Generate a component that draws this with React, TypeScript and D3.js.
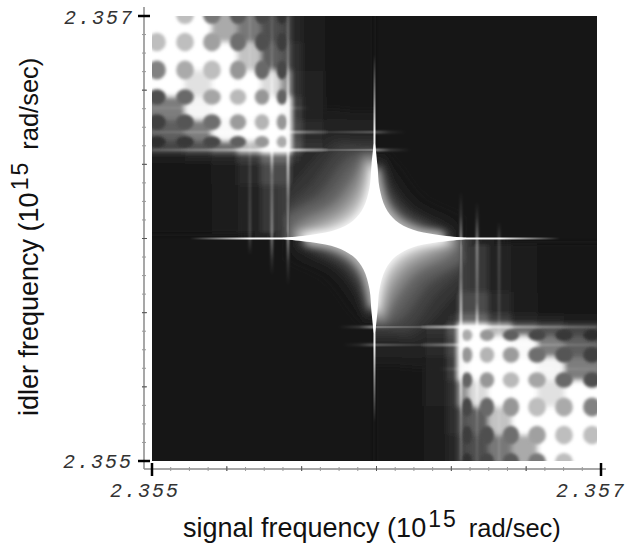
import * as d3 from "d3";

const width = 626;
const height = 543;

// all positions are offsets above 2.355e15 rad/sec, in units of 1e9 rad/sec
const tickLabels = ["2.355", "2.357"];
const majorTicks = [0, 2000];
const centre = { x: 991, y: 1000 };

// ridge lines of the corner fringe pattern
const ridgeX = [85, 205, 325, 436, 534, 606, 632, 704, 837];
const ridgeY = [1946, 1820, 1690, 1586, 1478, 1398, 1371, 1308, 1173];
const ridgeLevels = [
  [255, 255, 170, 120, 80, 70, 40, 28, 22],
  [255, 255, 255, 195, 95, 85, 45, 28, 22],
  [255, 225, 255, 255, 220, 150, 50, 32, 22],
  [125, 245, 255, 255, 255, 250, 62, 36, 23],
  [95, 125, 250, 255, 255, 255, 72, 42, 24],
  [70, 85, 110, 190, 255, 255, 85, 50, 25],
  [28, 32, 40, 62, 105, 105, 50, 32, 24],
  [24, 25, 30, 42, 75, 75, 40, 30, 23],
  [22, 23, 26, 34, 55, 60, 36, 28, 22],
];

// dark spots between the ridges
const holeX = [22, 147, 267, 383, 490, 579];
const holeY = [2004, 1883, 1757, 1636, 1523, 1434];
const holeLevels = [
  [255, 190, 120, 90, 70, 50],
  [190, 190, 160, 110, 80, 60],
  [130, 170, 190, 150, 105, 70],
  [80, 105, 165, 185, 150, 100],
  [65, 85, 110, 155, 180, 150],
  [45, 55, 70, 95, 150, 170],
];

// thin bright lines: position, then [along, opacity] stops
const vertLines = [
  { x: 606, w: 2, stops: [[2000, 0.2], [1802, 0.3], [1690, 0.7], [1398, 1], [1173, 0.4], [1002, 0.65], [894, 0.18], [791, 0]] },
  { x: 534, w: 2.4, stops: [[2000, 0.1], [1802, 0.15], [1690, 0.5], [1398, 0.9], [1285, 0.25], [1002, 0.45], [903, 0.12], [836, 0]] },
  { x: 436, w: 2.5, stops: [[1398, 0.12], [1002, 0.2], [926, 0]] },
];
const horizLines = [
  { y: 1398, w: 2, stops: [[0, 0.18], [325, 0.45], [481, 0.8], [606, 1], [793, 0.5], [989, 0.75], [1060, 0.2], [1150, 0]] },
  { y: 1478, w: 2.4, stops: [[0, 0.1], [325, 0.25], [606, 0.6], [793, 0.22], [989, 0.4], [1060, 0.1], [1130, 0]] },
  { y: 1586, w: 3, stops: [[0, 0.06], [606, 0.18], [704, 0]] },
];
const armV = [[1825, 0], [1622, 0.5], [1488, 0.9], [1308, 1], [692, 1], [512, 0.9], [378, 0.5], [175, 0]];
const armH = [[169, 0], [281, 0.4], [436, 0.95], [659, 1], [1327, 1], [1550, 0.95], [1706, 0.4], [1817, 0]];

// outline of the central star, one quadrant
const starDx = [0, 13, 22, 49, 94, 169, 272, 392, 470];
const starDy = [430, 333, 229, 139, 81, 40, 18, 4, 0];

// glow contours around the star: size relative to the star, grey level, reach of the arms
const lobeK = [5, 4.5, 4, 3.5, 3, 2.6, 2.3, 2, 1.8, 1.6, 1.45, 1.3, 1.2, 1.1, 1.03];
const lobeGrey = [26, 32, 42, 52, 66, 85, 100, 122, 140, 160, 178, 195, 212, 232, 248];
const lobeArm = [580, 535, 470, 436, 410, 392, 383, 374, 356, 347, 338, 330, 320, 311, 303];
const glowK = [2.4, 2.1, 1.8, 1.6, 1.4, 1.25, 1.1];
const glowGrey = [25, 30, 40, 55, 80, 120, 180];
const glowArm = [400, 378, 356, 334, 320, 311, 302];

const x = d3.scaleLinear().domain([0, 2000]).range([152, 601]);
const y = d3.scaleLinear().domain([0, 2000]).range([461, 16]);
const grey = (v: number) => d3.rgb(v, v, v).formatHex();

// cell edges half way between neighbouring ridges
const edges = (vals: number[], pad: number) => {
  const mids = d3.pairs(vals).map(([a, b]) => (a + b) / 2);
  const dir = vals[1] > vals[0] ? 1 : -1;
  return [vals[0] - dir * pad, ...mids, vals[vals.length - 1] + dir * pad];
};
const xEdges = edges(ridgeX, 150);
const yEdges = edges(ridgeY, 150);

const starPath = (k: number, arm: number) => {
  const outline = starDx.map((d, i) => [Math.min(k * d, arm), Math.min(k * starDy[i], arm)]);
  const quad = (sx: number, sy: number, rev: boolean) => {
    const pts = outline.map((p) => [centre.x + sx * p[0], centre.y + sy * p[1]] as [number, number]);
    return rev ? pts.reverse() : pts;
  };
  const pts = [
    ...quad(1, 1, false),
    ...quad(1, -1, true).slice(1),
    ...quad(-1, -1, false).slice(1),
    ...quad(-1, 1, true).slice(1, -1),
  ];
  return d3.line().x((d) => x(d[0])).y((d) => y(d[1])).curve(d3.curveCatmullRomClosed)(pts) as string;
};

const Corner = () => (
  <g>
    <g filter="url(#blurFabric)">
      {ridgeLevels.map((row, r) =>
        row.map((v, c) => (
          <rect
            key={`${r}-${c}`}
            x={x(xEdges[c])}
            y={y(yEdges[r])}
            width={x(xEdges[c + 1]) - x(xEdges[c]) + 0.5}
            height={y(yEdges[r + 1]) - y(yEdges[r]) + 0.5}
            fill={grey(v)}
          />
        ))
      )}
    </g>
    <g filter="url(#blurHole)">
      {holeLevels.map((row, r) =>
        row.map((v, c) =>
          v < 255 ? (
            <ellipse
              key={`${r}-${c}`}
              cx={x(holeX[c])}
              cy={y(holeY[r])}
              rx={Math.abs(x(ridgeX[c]) - x(ridgeX[Math.max(c - 1, 0)]) || 27) * 0.33}
              ry={Math.abs(y(ridgeY[r]) - y(ridgeY[Math.max(r - 1, 0)]) || 27) * 0.33}
              fill={grey(v)}
            />
          ) : null
        )
      )}
    </g>
    <g filter="url(#blurLine)">
      {vertLines.map((l) => (
        <line key={l.x} x1={x(l.x)} x2={x(l.x) + 0.01} y1={y(2000)} y2={y(0)} stroke={`url(#v${l.x})`} strokeWidth={l.w} />
      ))}
      {horizLines.map((l) => (
        <line key={l.y} x1={x(0)} x2={x(2000)} y1={y(l.y)} y2={y(l.y) + 0.01} stroke={`url(#h${l.y})`} strokeWidth={l.w} />
      ))}
    </g>
  </g>
);

const App = () => {
  const cx = x(centre.x);
  const cy = y(centre.y);
  const clipRect = { x: x(0), y: y(2000), width: 445, height: 445 };
  const minor = d3.range(0, 2001, 2000 / 24);
  const medium = d3.range(0, 2001, 2000 / 6);

  const vGrad = (id: string, stops: number[][]) => (
    <linearGradient key={id} id={id} gradientUnits="userSpaceOnUse" x1={0} x2={0} y1={y(2000)} y2={y(0)}>
      {stops.map(([p, o]) => (
        <stop key={p} offset={(y(p) - y(2000)) / (y(0) - y(2000))} stopColor="#fff" stopOpacity={o} />
      ))}
    </linearGradient>
  );
  const hGrad = (id: string, stops: number[][]) => (
    <linearGradient key={id} id={id} gradientUnits="userSpaceOnUse" x1={x(0)} x2={x(2000)} y1={0} y2={0}>
      {stops.map(([p, o]) => (
        <stop key={p} offset={p / 2000} stopColor="#fff" stopOpacity={o} />
      ))}
    </linearGradient>
  );

  const title = (name: string) => (
    <>
      {name} frequency (10
      <tspan dx={2} dy={-10} fontSize={23} letterSpacing={2}>15</tspan>
      <tspan dx={11} dy={10} fontSize={25.5}>rad/sec)</tspan>
    </>
  );

  return (
    <svg width={width} height={height} style={{ position: "absolute", left: 0, top: 0, background: "#fff" }}>
      <defs>
        <clipPath id="plot"><rect {...clipRect} /></clipPath>
        <clipPath id="qUL"><rect x={x(0)} y={y(2000)} width={cx - x(0)} height={cy - y(2000)} /></clipPath>
        <clipPath id="qLR"><rect x={cx} y={cy} width={x(2000) - cx} height={y(0) - cy} /></clipPath>
        <clipPath id="qUR"><rect x={cx} y={y(2000)} width={x(2000) - cx} height={cy - y(2000)} /></clipPath>
        <clipPath id="qLL"><rect x={x(0)} y={cy} width={cx - x(0)} height={y(0) - cy} /></clipPath>
        <filter id="blurFabric" x="-20%" y="-20%" width="140%" height="140%"><feGaussianBlur stdDeviation="2.5" /></filter>
        <filter id="blurHole" x="-10%" y="-10%" width="120%" height="120%"><feGaussianBlur stdDeviation="1.8" /></filter>
        <filter id="blurLine" filterUnits="userSpaceOnUse" x="100" y="0" width="526" height="500"><feGaussianBlur stdDeviation="0.9" /></filter>
        <filter id="blurStar" filterUnits="userSpaceOnUse" x="100" y="0" width="526" height="500"><feGaussianBlur stdDeviation="0.7" /></filter>
        <filter id="blurLobe" filterUnits="userSpaceOnUse" x="100" y="0" width="526" height="500"><feGaussianBlur stdDeviation="3" /></filter>
        {vertLines.map((l) => vGrad(`v${l.x}`, l.stops))}
        {horizLines.map((l) => hGrad(`h${l.y}`, l.stops))}
        {vGrad("armV", armV)}
        {hGrad("armH", armH)}
      </defs>

      <g clipPath="url(#plot)">
        <rect {...clipRect} fill="#161616" />
        <Corner />
        <g transform={`rotate(180 ${cx} ${cy})`}>
          <Corner />
        </g>
        {["qUL", "qLR"].map((q) => (
          <g key={q} clipPath={`url(#${q})`} style={{ mixBlendMode: "lighten" }}>
            <g filter="url(#blurLobe)">
              {lobeK.map((k, i) => <path key={k} d={starPath(k, lobeArm[i])} fill={grey(lobeGrey[i])} />)}
            </g>
          </g>
        ))}
        {["qUR", "qLL"].map((q) => (
          <g key={q} clipPath={`url(#${q})`} style={{ mixBlendMode: "lighten" }}>
            <g filter="url(#blurLobe)">
              {glowK.map((k, i) => <path key={k} d={starPath(k, glowArm[i])} fill={grey(glowGrey[i])} />)}
            </g>
          </g>
        ))}
        <g filter="url(#blurStar)">
          <line x1={cx} x2={cx + 0.01} y1={y(2000)} y2={y(0)} stroke="url(#armV)" strokeWidth={2} />
          <line x1={x(0)} x2={x(2000)} y1={cy} y2={cy + 0.01} stroke="url(#armH)" strokeWidth={2} />
          <path d={starPath(1, 430)} fill="#fff" />
        </g>
      </g>

      {/* axes */}
      <g stroke="#8a8a8a" strokeWidth={1.5} fill="none">
        <line x1={144} x2={144} y1={7} y2={469} />
        <line x1={144} x2={606} y1={469} y2={469} />
      </g>
      <g stroke="#999" strokeWidth={1}>
        {minor.map((t) => <line key={`mx${t}`} x1={x(t)} x2={x(t)} y1={467} y2={471} />)}
        {minor.map((t) => <line key={`my${t}`} x1={142} x2={146} y1={y(t)} y2={y(t)} />)}
      </g>
      <g stroke="#555" strokeWidth={1}>
        {medium.map((t) => <line key={`Mx${t}`} x1={x(t)} x2={x(t)} y1={466} y2={471} />)}
        {medium.map((t) => <line key={`My${t}`} x1={142} x2={147} y1={y(t)} y2={y(t)} />)}
      </g>
      <g stroke="#000" strokeWidth={2.5}>
        {majorTicks.map((t) => <line key={`Tx${t}`} x1={x(t)} x2={x(t)} y1={463} y2={476} />)}
        {majorTicks.map((t) => <line key={`Ty${t}`} x1={138} x2={150} y1={y(t)} y2={y(t)} />)}
      </g>

      <g fontFamily="'Liberation Mono'" fontStyle="italic" fontSize={20} letterSpacing={2} fill="#333">
        <text x={64} y={24}>{tickLabels[1]}</text>
        <text x={63} y={468}>{tickLabels[0]}</text>
        <text x={110} y={497}>{tickLabels[0]}</text>
        <text x={556} y={497}>{tickLabels[1]}</text>
      </g>

      <g fontFamily="'Liberation Sans'" fontSize={27} fill="#111">
        <text x={183} y={537}>{title("signal")}</text>
        <text transform="translate(38,416) rotate(-90)">{title("idler")}</text>
      </g>
    </svg>
  );
};

export default App;
